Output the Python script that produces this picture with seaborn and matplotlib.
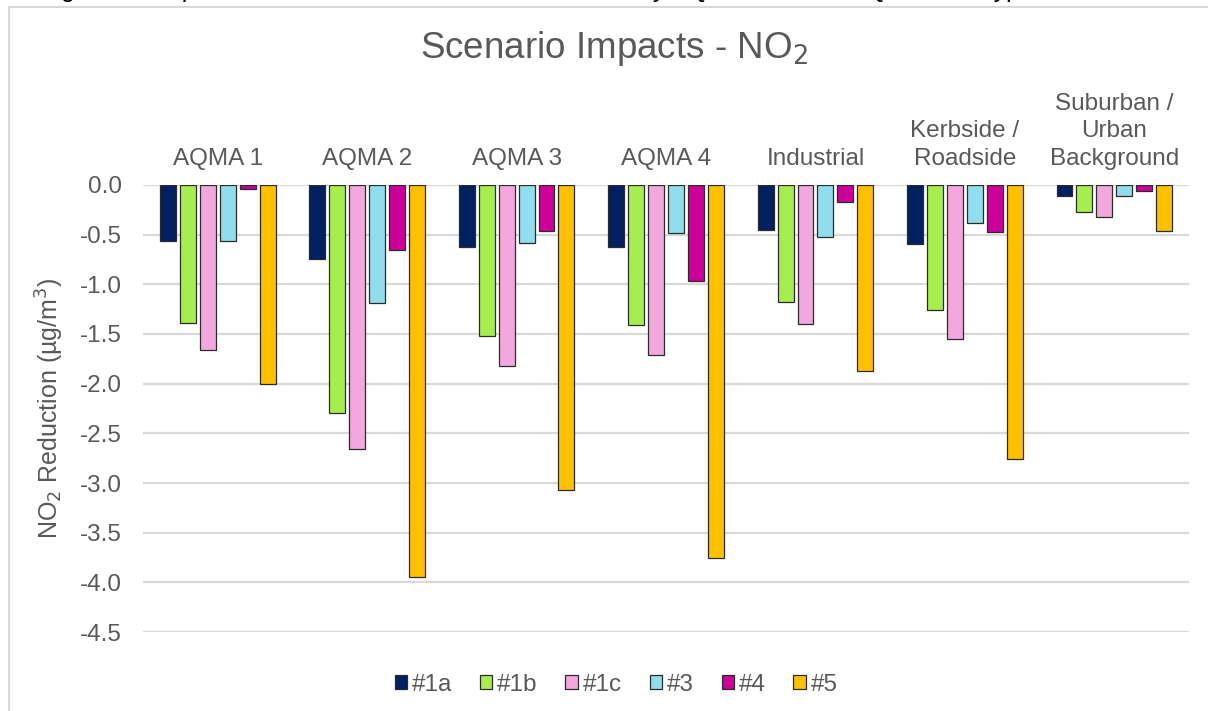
import matplotlib
matplotlib.use("Agg")
import matplotlib.pyplot as plt
from matplotlib.patches import Rectangle
import seaborn as sns
import pandas as pd

# Area types and scenarios
areas = ["AQMA 1", "AQMA 2", "AQMA 3", "AQMA 4", "Industrial",
         "Kerbside /\nRoadside", "Suburban /\nUrban\nBackground"]
scenarios = ["#1a", "#1b", "#1c", "#3", "#4", "#5"]

# NO2 reduction (µg/m3) per scenario, one value per area
s_1a = [-0.56, -0.745, -0.63, -0.63, -0.45, -0.60, -0.11]
s_1b = [-1.39, -2.30, -1.52, -1.41, -1.18, -1.26, -0.27]
s_1c = [-1.66, -2.66, -1.82, -1.71, -1.40, -1.55, -0.32]
s_3 = [-0.56, -1.19, -0.59, -0.48, -0.52, -0.38, -0.11]
s_4 = [-0.04, -0.66, -0.46, -0.97, -0.17, -0.47, -0.06]
s_5 = [-2.00, -3.95, -3.07, -3.75, -1.87, -2.76, -0.46]

colors = ["#002060", "#A6EE4E", "#F2A8DE", "#92DDEC", "#CC0099", "#FFC000"]
text_col = "#595959"
edge_col = "#2b2b2b"

series = [s_1a, s_1b, s_1c, s_3, s_4, s_5]
rows = []
for name, vals in zip(scenarios, series):
    for area, v in zip(areas, vals):
        rows.append({"Area": area, "Scenario": name, "Value": v})
df = pd.DataFrame(rows)

sns.set_theme(style="white")
plt.rcParams["font.family"] = ["Liberation Sans", "DejaVu Sans"]

fig = plt.figure(figsize=(12.08, 7.11), dpi=100)
ax = fig.add_axes([0.1184, 0.111, 0.8659, 0.629])

sns.barplot(data=df, x="Area", y="Value", hue="Scenario", order=areas,
            hue_order=scenarios, palette=colors, saturation=1, width=0.8,
            gap=0.2, edgecolor=edge_col, linewidth=0.9, legend=False, ax=ax)

ax.set_ylim(-4.5, 0)
ax.set_yticks([0, -0.5, -1.0, -1.5, -2.0, -2.5, -3.0, -3.5, -4.0, -4.5])
ax.set_yticklabels(["0.0", "-0.5", "-1.0", "-1.5", "-2.0", "-2.5", "-3.0",
                    "-3.5", "-4.0", "-4.5"])
ax.set_xlim(-0.5, len(areas) - 0.5)
ax.grid(axis="y", color="#D9D9D9", linewidth=1.6)
ax.set_axisbelow(True)
for sp in ax.spines.values():
    sp.set_visible(False)

ax.xaxis.tick_top()
ax.tick_params(axis="x", length=0, pad=11, labelsize=17.5, labelcolor=text_col)
ax.tick_params(axis="y", length=0, pad=15, labelsize=17.5, labelcolor=text_col)
for lab in ax.get_xticklabels():
    lab.set_linespacing(1.3)
ax.set_xlabel("")
ax.set_ylabel("NO$_2$ Reduction (µg/m$^3$)", fontsize=18, color=text_col)
ax.yaxis.set_label_coords(-0.0735, 0.5)

fig.text(0.508, 0.932, "Scenario Impacts - NO$_2$", ha="center", va="center",
         fontsize=26.5, color=text_col)

# Caption line above the chart frame
fig.text(0.035, 1.004, "Figure 6 - Impact of measures on NO₂ concentrations by AQMA and non-AQMA area type",
         ha="left", va="baseline", fontsize=18, style="italic", color="black")

# Chart frame
fig.patches.append(Rectangle((9 / 1208, -0.05), 1.2, 1 - 7 / 711 + 0.05,
                             transform=fig.transFigure, fill=False,
                             edgecolor="#D9D9D9", linewidth=1.5))

handles = [Rectangle((0, 0), 1, 1, facecolor=c, edgecolor=edge_col, linewidth=0.9)
           for c in colors]
fig.legend(handles, scenarios, loc="center", bbox_to_anchor=(0.51, 0.037),
           ncol=6, frameon=False, fontsize=17.5, labelcolor=text_col,
           handlelength=0.5, handleheight=0.5, handletextpad=0.2,
           columnspacing=1.15)

fig.savefig("out.png", dpi=100)
